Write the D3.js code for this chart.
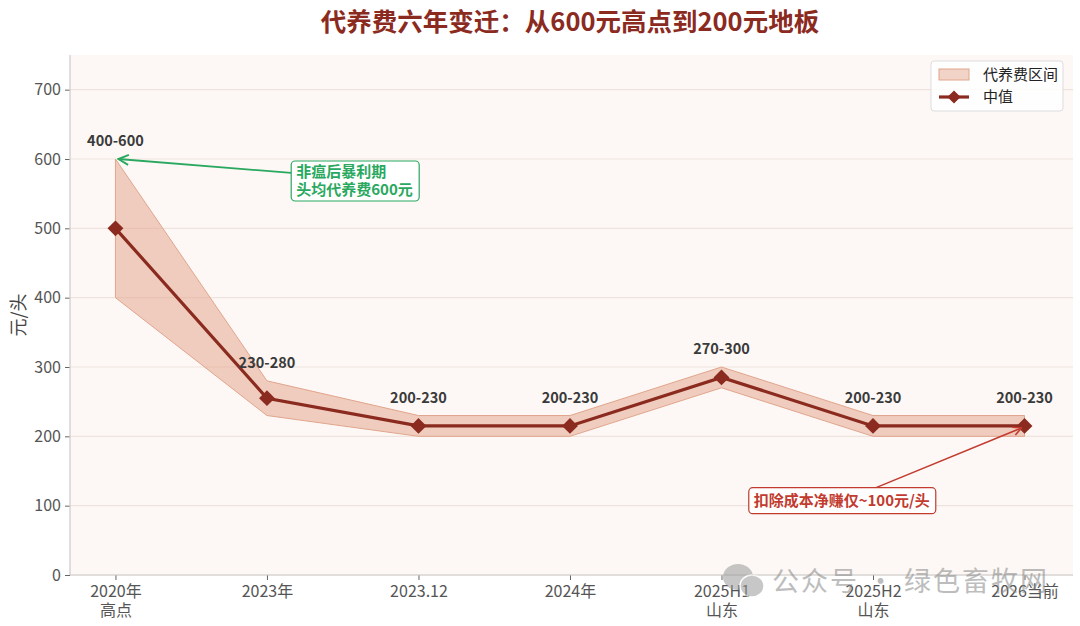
<!DOCTYPE html>
<html>
<head>
<meta charset="utf-8">
<script src="https://cdn.jsdelivr.net/npm/d3@7"></script>
<style>
  body { margin: 0; background: #fff; }
  text { font-family: "Noto Sans CJK SC", "Noto Sans", sans-serif; }
</style>
</head>
<body>
<div id="target_div"></div>
<script>
var categories = ['2020年\n高点', '2023年', '2023.12', '2024年', '2025H1\n山东', '2025H2\n山东', '2026当前'];
var lowValues = [400, 230, 200, 200, 270, 200, 200];
var highValues = [600, 280, 230, 230, 300, 230, 230];
var midValues = [500, 255, 215, 215, 285, 215, 215];
var rangeLabels = ['400-600', '230-280', '200-230', '200-230', '270-300', '200-230', '200-230'];
var yTicks = [0, 100, 200, 300, 400, 500, 600, 700];

var W = 1080, H = 626;
var margin = {top: 55, left: 70, right: 7, bottom: 51};
var canvas = {w: W - margin.left - margin.right, h: H - margin.top - margin.bottom};

var dark = '#8b2a1e';

var svg = d3.select('#target_div').append('svg')
  .attr('width', W).attr('height', H);

// title
svg.append('text')
  .attr('x', W / 2 + 30).attr('y', 31)
  .attr('text-anchor', 'middle')
  .style('font-size', '25.5px').style('font-weight', 'bold')
  .style('fill', dark)
  .text('代养费六年变迁：从600元高点到200元地板');

var g = svg.append('g').attr('transform', `translate(${margin.left}, ${margin.top})`);

var x = d3.scaleLinear().domain([-0.3, categories.length - 1 + 0.32]).range([0, canvas.w]);
var y = d3.scaleLinear().domain([0, 750]).range([canvas.h, 0]);

g.append('rect').attr('width', canvas.w).attr('height', canvas.h).style('fill', '#fdf8f5');

// grid
g.selectAll('.grid').data(yTicks).enter().append('line')
  .attr('x1', 0).attr('x2', canvas.w)
  .attr('y1', d => y(d)).attr('y2', d => y(d))
  .style('stroke', '#efe3dd').style('stroke-width', 1.2);

// band
var area = d3.area()
  .x((d, i) => x(i))
  .y0((d, i) => y(lowValues[i]))
  .y1((d, i) => y(highValues[i]));
g.append('path')
  .attr('d', area(midValues))
  .style('fill', '#e4a78f').style('fill-opacity', 0.55)
  .style('stroke', '#e2a58c').style('stroke-width', 1);

// median line
var line = d3.line().x((d, i) => x(i)).y(d => y(d));
g.append('path')
  .attr('d', line(midValues))
  .style('fill', 'none').style('stroke', dark).style('stroke-width', 3.2);

var diamond = d3.symbol().type(d3.symbolDiamond2).size(160);
g.selectAll('.pt').data(midValues).enter().append('path')
  .attr('d', diamond)
  .attr('transform', (d, i) => `translate(${x(i)}, ${y(d)})`)
  .style('fill', dark);

// range labels
g.selectAll('.rl').data(rangeLabels).enter().append('text')
  .attr('x', (d, i) => x(i))
  .attr('y', (d, i) => y(highValues[i]) - 13)
  .attr('text-anchor', 'middle')
  .style('font-size', '14.5px').style('font-weight', 'bold').style('fill', '#3a3a3a')
  .text(d => d);

// axes
var yAxis = d3.axisLeft(y).tickValues(yTicks).tickSize(5).tickPadding(4);
var ya = g.append('g').call(yAxis);
ya.select('.domain').remove();
ya.selectAll('line').style('stroke', '#666');
ya.selectAll('text').style('font-size', '16px').style('fill', '#555')
  .style('font-family', '"Noto Sans CJK SC", sans-serif');

var xa = g.append('g').attr('transform', `translate(0, ${canvas.h})`)
  .call(d3.axisBottom(x).tickValues(d3.range(categories.length)).tickSize(5).tickFormat(''));
xa.select('.domain').remove();
xa.selectAll('line').style('stroke', '#666');
xa.selectAll('.tick').each(function (d) {
  var parts = categories[d].split('\n');
  var t = d3.select(this).append('text')
    .attr('text-anchor', 'middle')
    .style('font-size', '16px').style('fill', '#555');
  parts.forEach((p, k) => {
    t.append('tspan').attr('x', 0).attr('y', 22 + k * 18.5).text(p);
  });
});

// spines
g.append('line').attr('x1', 0).attr('x2', 0).attr('y1', 0).attr('y2', canvas.h)
  .style('stroke', '#cccccc').style('stroke-width', 1.2);
g.append('line').attr('x1', 0).attr('x2', canvas.w).attr('y1', canvas.h).attr('y2', canvas.h)
  .style('stroke', '#cccccc').style('stroke-width', 1.2);

// y label
svg.append('text')
  .attr('transform', `translate(25, ${margin.top + canvas.h / 2}) rotate(-90)`)
  .attr('text-anchor', 'middle')
  .style('font-size', '18px').style('fill', '#444')
  .text('元/头');

// annotations
var defs = svg.append('defs');
function arrowHead(id, color) {
  defs.append('marker').attr('id', id)
    .attr('viewBox', '0 0 10 10').attr('refX', 9).attr('refY', 5)
    .attr('markerWidth', 7).attr('markerHeight', 7).attr('orient', 'auto')
    .append('path').attr('d', 'M1,1 L9,5 L1,9')
    .style('fill', 'none').style('stroke', color).style('stroke-width', 1.5);
}
var green = '#2aa860', red = '#c23b2e';
arrowHead('arrG', green);
arrowHead('arrR', red);

// green note
var gx = x(1.16);
g.append('line')
  .attr('x1', gx).attr('y1', y(580)).attr('x2', x(0) + 3).attr('y2', y(600))
  .style('stroke', green).style('stroke-width', 1.8).attr('marker-end', 'url(#arrG)');
g.append('rect').attr('x', gx).attr('y', y(600) + 2).attr('width', 128).attr('height', 40)
  .attr('rx', 4).style('fill', '#fff').style('stroke', green).style('stroke-width', 1.2);
var gt = g.append('text').style('font-size', '15px').style('font-weight', 'bold').style('fill', green);
gt.append('tspan').attr('x', gx + 5).attr('y', y(600) + 18).text('非瘟后暴利期');
gt.append('tspan').attr('x', gx + 5).attr('y', y(600) + 36).text('头均代养费600元');

// red note
var rx = x(4.18), ry = y(100) - 18;
g.append('line')
  .attr('x1', x(5.02)).attr('y1', ry).attr('x2', x(6) - 3).attr('y2', y(215) + 2)
  .style('stroke', red).style('stroke-width', 1.5).attr('marker-end', 'url(#arrR)');
g.append('rect').attr('x', rx).attr('y', ry).attr('width', 187).attr('height', 26)
  .attr('rx', 4).style('fill', '#fff').style('stroke', red).style('stroke-width', 1.2);
g.append('text').attr('x', rx + 93).attr('y', ry + 18.5).attr('text-anchor', 'middle')
  .style('font-size', '15px').style('font-weight', 'bold').style('fill', red)
  .text('扣除成本净赚仅~100元/头');

// legend
var lg = svg.append('g').attr('transform', 'translate(931, 61)');
lg.append('rect').attr('width', 132).attr('height', 50).attr('rx', 3)
  .style('fill', '#fff').style('fill-opacity', 0.85).style('stroke', '#dddddd');
lg.append('rect').attr('x', 8).attr('y', 8).attr('width', 30).attr('height', 11)
  .style('fill', '#e4a78f').style('fill-opacity', 0.5).style('stroke', '#e2a58c');
lg.append('text').attr('x', 52).attr('y', 19).style('font-size', '15px').style('fill', '#222').text('代养费区间');
lg.append('line').attr('x1', 8).attr('x2', 38).attr('y1', 36).attr('y2', 36)
  .style('stroke', dark).style('stroke-width', 3.2);
lg.append('path').attr('d', d3.symbol().type(d3.symbolDiamond2).size(110))
  .attr('transform', 'translate(23, 36)').style('fill', dark);
lg.append('text').attr('x', 52).attr('y', 41).style('font-size', '15px').style('fill', '#222').text('中值');

// watermark
var wm = svg.append('g').style('opacity', 0.55);
wm.append('ellipse').attr('cx', 738).attr('cy', 577).attr('rx', 15).attr('ry', 13).style('fill', '#9a9a9a');
wm.append('ellipse').attr('cx', 752).attr('cy', 586).attr('rx', 12).attr('ry', 11).style('fill', '#9a9a9a')
  .style('stroke', '#fff').style('stroke-width', 1.5);
wm.append('text').attr('x', 772).attr('y', 591)
  .style('font-size', '27px').style('fill', '#888').style('letter-spacing', '2px')
  .text('公众号 · 绿色畜牧网');
</script>
</body>
</html>
